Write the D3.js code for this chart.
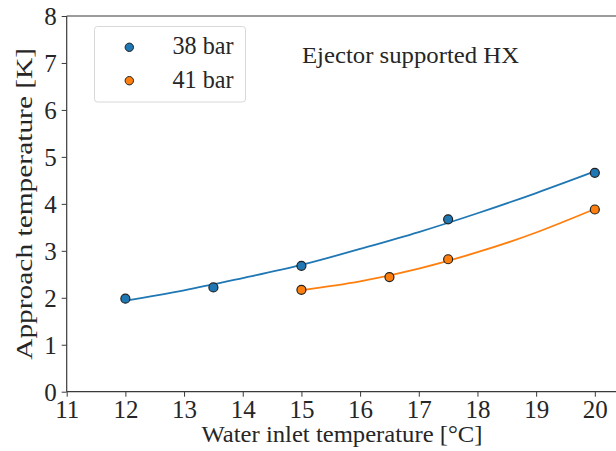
<!DOCTYPE html>
<html><head><meta charset="utf-8"><script src="https://cdn.jsdelivr.net/npm/d3@7"></script>
</head>
<body style="margin:0">
<svg id="chart" width="616" height="451"></svg>
<script>
// Measured points
const seriesNames = ["38 bar", "41 bar"];
const seriesColors = ["#1f77b4", "#ff7f0e"];
const waterTemp38 = [12, 13.5, 15, 17.5, 20];
const approach38 = [1.98, 2.22, 2.68, 3.67, 4.66];
const waterTemp41 = [15, 16.5, 17.5, 20];
const approach41 = [2.17, 2.44, 2.82, 3.88];

// Fitted trend curves
const fitTemp38 = [12, 13, 14, 15, 16, 17, 18, 19, 20];
const fitApproach38 = [1.94, 2.16, 2.42, 2.70, 3.04, 3.40, 3.80, 4.23, 4.69];
const fitTemp41 = [15, 16, 17, 18, 19, 20];
const fitApproach41 = [2.16, 2.35, 2.62, 2.97, 3.39, 3.89];

const xTicks = [11, 12, 13, 14, 15, 16, 17, 18, 19, 20];
const yTicks = [0, 1, 2, 3, 4, 5, 6, 7, 8];

const FONT = "Liberation Serif";
const TEXT_COLOR = "#262626";
const setFont = (sel, px) => sel
  .attr("font-family", FONT)
  .style("font", `${px}px "${FONT}"`);

const svg = d3.select("#chart");
const m = { left: 66.7, right: 618.3, top: 16, bottom: 391.7 };

const x = d3.scaleLinear().domain([11, 20.4]).range([m.left, m.right]);
const y = d3.scaleLinear().domain([0, 8]).range([m.bottom, m.top]);

const axisColor = "#3a3a3a";

// Axes
const xAxis = svg.append("g")
  .attr("transform", `translate(0,${m.bottom})`)
  .call(d3.axisBottom(x).tickValues(xTicks).tickFormat(d3.format("d")).tickSize(5).tickPadding(4));
const yAxis = svg.append("g")
  .attr("transform", `translate(${m.left},0)`)
  .call(d3.axisLeft(y).tickValues(yTicks).tickFormat(d3.format("d")).tickSize(5).tickPadding(5));

[xAxis, yAxis].forEach(g => {
  g.attr("font-family", FONT).attr("font-size", 25);
  g.select(".domain").remove();
  g.selectAll(".tick line").attr("stroke", axisColor).attr("stroke-width", 1);
  setFont(g.selectAll(".tick text"), 25).attr("fill", TEXT_COLOR);
});
yAxis.selectAll(".tick text").attr("dy", "0.34em");

// Spines
svg.append("line").attr("x1", m.left).attr("x2", m.left).attr("y1", m.top).attr("y2", m.bottom)
  .attr("stroke", axisColor).attr("stroke-width", 1.2);
svg.append("line").attr("x1", m.left).attr("x2", m.right).attr("y1", m.bottom).attr("y2", m.bottom)
  .attr("stroke", axisColor).attr("stroke-width", 1.2);
svg.append("line").attr("x1", m.left).attr("x2", m.right).attr("y1", m.top).attr("y2", m.top)
  .attr("stroke", axisColor).attr("stroke-width", 1.2);

// Axis labels
setFont(svg.append("text"), 23)
  .attr("x", 342).attr("y", 442)
  .attr("text-anchor", "middle")
  .attr("textLength", 281).attr("lengthAdjust", "spacingAndGlyphs")
  .attr("fill", TEXT_COLOR)
  .text("Water inlet temperature [°C]");
setFont(svg.append("text"), 24)
  .attr("transform", `translate(31.5,${(m.top + m.bottom) / 2}) rotate(-90)`)
  .attr("text-anchor", "middle")
  .attr("textLength", 312).attr("lengthAdjust", "spacingAndGlyphs")
  .attr("fill", TEXT_COLOR)
  .text("Approach temperature [K]");

// Annotation
setFont(svg.append("text"), 24)
  .attr("x", 302).attr("y", 63)
  .attr("textLength", 217).attr("lengthAdjust", "spacingAndGlyphs")
  .attr("fill", TEXT_COLOR)
  .text("Ejector supported HX");

// Trend curves
const line = d3.line().x(d => x(d[0])).y(d => y(d[1])).curve(d3.curveNatural);
const fits = [
  d3.zip(fitTemp38, fitApproach38),
  d3.zip(fitTemp41, fitApproach41)
];
fits.forEach((pts, i) => {
  svg.append("path").datum(pts)
    .attr("d", line)
    .attr("fill", "none")
    .attr("stroke", seriesColors[i])
    .attr("stroke-width", 1.8);
});

// Measured markers
const measured = [
  d3.zip(waterTemp38, approach38),
  d3.zip(waterTemp41, approach41)
];
measured.forEach((pts, i) => {
  svg.append("g").selectAll("circle").data(pts).join("circle")
    .attr("cx", d => x(d[0])).attr("cy", d => y(d[1]))
    .attr("r", 4.5)
    .attr("fill", seriesColors[i])
    .attr("stroke", "#222")
    .attr("stroke-width", 1.2);
});

// Legend
const legend = svg.append("g");
legend.append("rect")
  .attr("x", 94.5).attr("y", 26.5).attr("width", 151).attr("height", 75.5)
  .attr("rx", 3).attr("fill", "#fff").attr("fill-opacity", 0.8)
  .attr("stroke", "#d8d8d8").attr("stroke-width", 1);
seriesNames.forEach((name, i) => {
  const cy = 47.3 + i * 33.4;
  legend.append("circle")
    .attr("cx", 129.3).attr("cy", cy).attr("r", 4.2)
    .attr("fill", seriesColors[i]).attr("stroke", "#222").attr("stroke-width", 1);
  setFont(legend.append("text"), 25)
    .attr("x", 172.5).attr("y", cy + 7)
    .attr("textLength", 61).attr("lengthAdjust", "spacingAndGlyphs")
    .attr("fill", TEXT_COLOR)
    .text(name);
});
</script>
</body>
</html>
